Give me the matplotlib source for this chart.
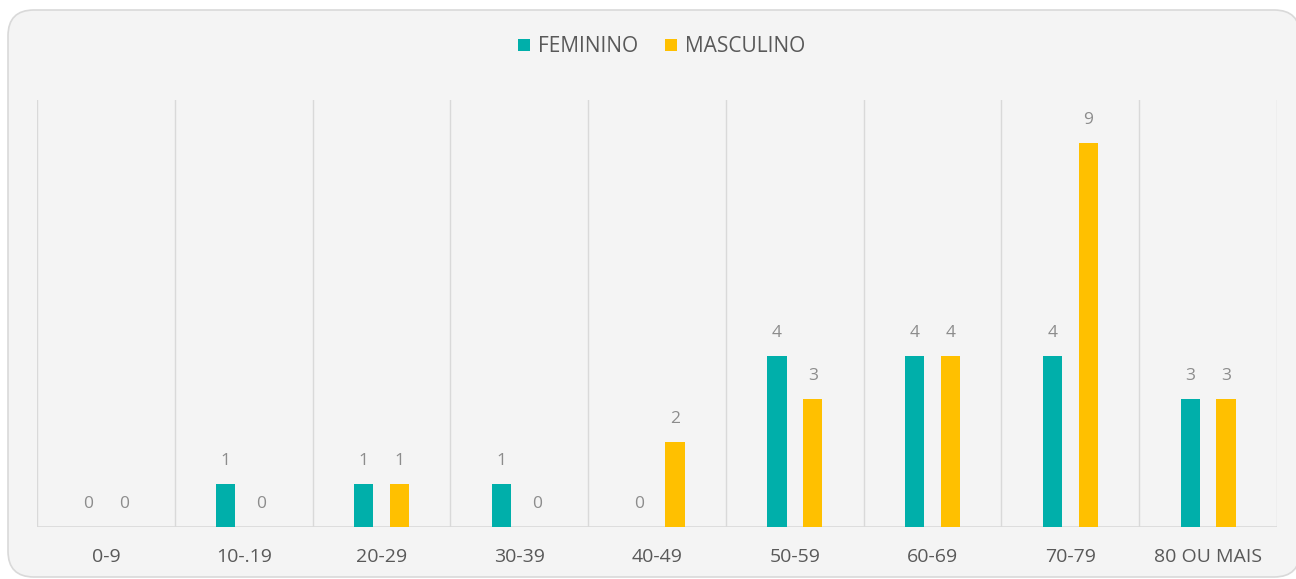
import numpy as np
import matplotlib
matplotlib.use("Agg")
import matplotlib.pyplot as plt
from matplotlib.patches import FancyBboxPatch

categories = ["0-9", "10-.19", "20-29", "30-39", "40-49", "50-59", "60-69", "70-79", "80 OU MAIS"]
feminino = [0, 1, 1, 1, 0, 4, 4, 4, 3]
masculino = [0, 0, 1, 0, 2, 3, 4, 9, 3]

teal = "#00AFAA"
gold = "#FFC000"
bg = "#F4F4F4"

plt.rcParams["font.family"] = ["Open Sans", "DejaVu Sans"]

fig = plt.figure(figsize=(12.96, 5.79), dpi=100)
fig.patch.set_facecolor("white")
box = FancyBboxPatch((8 / 1296, 2 / 579), 1 - 4 / 1296, 1 - 12 / 579,
                     boxstyle="round,pad=0,rounding_size=0.02",
                     transform=fig.transFigure, facecolor=bg,
                     edgecolor="#D9D9D9", linewidth=1.2,
                     mutation_aspect=1296 / 579, zorder=-5)
fig.patches.append(box)

ax = fig.add_axes([37 / 1296, 1 - 527 / 579, (1277 - 37) / 1296, (527 - 100) / 579])
ax.set_facecolor("none")

x = np.arange(len(categories))
w = 0.14
off = 0.13
b1 = ax.bar(x - off, feminino, w, color=teal, label="FEMININO", zorder=3)
b2 = ax.bar(x + off, masculino, w, color=gold, label="MASCULINO", zorder=3)

for bars, vals in ((b1, feminino), (b2, masculino)):
    for rect, v in zip(bars, vals):
        ax.text(rect.get_x() + rect.get_width() / 2, v + 0.35, str(v),
                ha="center", va="bottom", fontsize=12.5, color="#8C8C8C")

ax.set_xlim(-0.5, len(categories) - 0.5)
ax.set_ylim(0, 10)
for b in np.arange(-0.5, len(categories), 1.0):
    ax.axvline(b, color="#D9D9D9", linewidth=1, zorder=1)
ax.axhline(0, color="#D9D9D9", linewidth=1.2, zorder=2)

ax.set_xticks(x)
ax.set_xticklabels(categories, fontsize=14, color="#595959")
ax.tick_params(axis="x", length=0, pad=15)
ax.set_yticks([])
for s in ax.spines.values():
    s.set_visible(False)

fig.legend(handles=[b1, b2], loc="center", bbox_to_anchor=(662 / 1296, 1 - 47 / 579),
           ncol=2, frameon=False, fontsize=15, handlelength=0.55, handleheight=0.55,
           handletextpad=0.4, columnspacing=1.3, labelcolor="#595959")

fig.savefig("out.png", dpi=100, facecolor=fig.get_facecolor())
